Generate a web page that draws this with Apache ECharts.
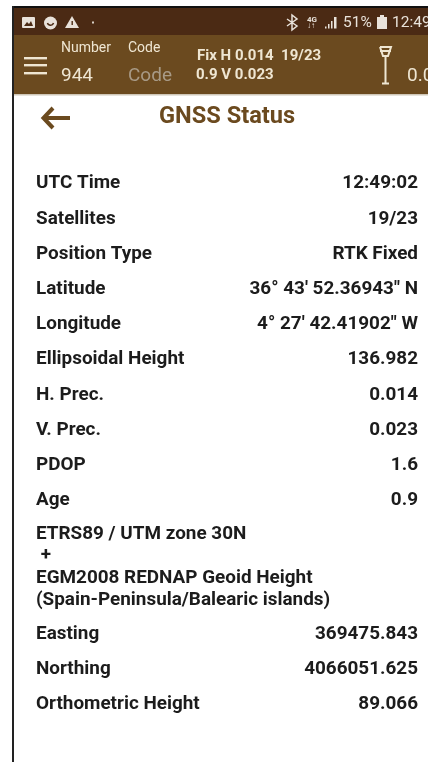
<!DOCTYPE html>
<html><head><meta charset="utf-8">
<style>html,body{margin:0;padding:0;background:#fff}#c{width:428px;height:762px}</style>
<script src="https://cdn.jsdelivr.net/npm/echarts@6/dist/echarts.min.js"></script>
</head><body><div id="c"></div>
<script>
const labels = ['UTC Time','Satellites','Position Type','Latitude','Longitude','Ellipsoidal Height','H. Prec.','V. Prec.','PDOP','Age'];
const values = ['12:49:02','19/23','RTK Fixed','36° 43\' 52.36943" N','4° 27\' 42.41902" W','136.982','0.014','0.023','1.6','0.9'];
const rowY = [183,219,254,289,324,359,395,430,465,500];
const crsLines = ['ETRS89 / UTM zone 30N',' +','EGM2008 REDNAP Geoid Height','(Spain-Peninsula/Balearic islands)'];
const crsY = [534,555,578,600];
const labels2 = ['Easting','Northing','Orthometric Height'];
const values2 = ['369475.843','4066051.625','89.066'];
const rowY2 = [634,669,704];

const F='Roboto', DARK='#1c1c1c', BR='#6b4a1f', CREAM='#efe6d2';
const T=(x,y,text,size,fill,weight,align)=>({type:'text',silent:true,style:{x,y,text,fill,font:`${weight||400} ${size}px ${F}`,align:align||'left',verticalAlign:'middle'}});
const R=(x,y,w,h,fill)=>({type:'rect',silent:true,shape:{x,y,width:w,height:h},style:{fill}});
const L=(pts,stroke,w)=>({type:'polyline',silent:true,shape:{points:pts},style:{stroke,fill:null,lineWidth:w,lineCap:'butt'}});
const els=[
 R(12,6,416,2,'#111'),R(12,6,2,756,'#222'),
 R(14,8,414,27,'#4b2a14'),R(14,35,414,59,BR),R(14,94,414,1.5,'#cfc7b8'),
 // status bar icons
 {type:'rect',silent:true,shape:{x:22,y:17,width:13,height:11,r:1},style:{fill:'#e9e2da'}},
 {type:'polygon',silent:true,shape:{points:[[24,26],[27,22],[29,24],[31,21],[33,26]]},style:{fill:'#4b2a14'}},
 {type:'circle',silent:true,shape:{cx:50.5,cy:23,r:6.5},style:{fill:'#e9e2da'}},
 {type:'arc',silent:true,shape:{cx:50.5,cy:22,r:3.2,startAngle:0.3,endAngle:2.84},style:{stroke:'#4b2a14',lineWidth:1.5,fill:null}},
 {type:'polygon',silent:true,shape:{points:[[65,28],[79,28],[72,16]]},style:{fill:'#e9e2da'}},
 R(71.5,21,1.4,4,'#4b2a14'),
 R(92,21.5,2,2,'#d8cfc6'),
 L([[287,19],[297,26],[292,30],[292,15],[297,19],[287,26]],'#e9e2da',1.5),
 T(307,19.5,'4G',8,'#e9e2da',700),
 T(307,26,'↓↑',8,'#e9e2da',700),
 R(325,26.5,1.5,2,'#e9e2da'),R(328,24,1.5,4.5,'#e9e2da'),R(331,21,1.5,7.5,'#e9e2da'),R(334,17,2.5,11.5,'#e9e2da'),
 T(343,23,'51%',15.5,'#e9e2da',400),
 R(377,17,10,12,'#e9e2da'),R(380,15,4,2,'#e9e2da'),
 T(392,23,'12:49',15.5,'#e9e2da',400),
 // toolbar
 R(24,57,23,2.4,CREAM),R(24,64,23,2.4,CREAM),R(24,72,23,2.4,CREAM),
 T(61,48,'Number',14,CREAM),T(128,48,'Code',14,CREAM),
 T(61,76.5,'944',19,CREAM),T(128,76.5,'Code',19,'#a89a86'),
 T(197,56.5,'Fix H 0.014  19/23',15,CREAM,700),T(196,75.5,'0.9 V 0.023',15,CREAM,700),
 L([[380,47],[391,47],[388,56],[383,56],[380,47]],CREAM,2),
 L([[380,51],[391,51]],CREAM,2),L([[385.5,56],[385.5,83]],CREAM,2),L([[382,83.5],[389,83.5]],CREAM,2),
 T(407,76,'0.0',19,CREAM),
 // heading
 L([[43,118],[70,118]],BR,4),L([[53,108],[43.5,118],[53,128]],BR,4),
 T(159,117.5,'GNSS Status',23.6,BR,700)
];
const S=18.9;
labels.forEach((t,i)=>{els.push(T(36,rowY[i],t,S,DARK,700));els.push(T(418,rowY[i],values[i],S,DARK,700,'right'));});
crsLines.forEach((t,i)=>els.push(T(36,crsY[i],t,S,DARK,700)));
labels2.forEach((t,i)=>{els.push(T(36,rowY2[i],t,S,DARK,700));els.push(T(418,rowY2[i],values2[i],S,DARK,700,'right'));});
const chart=echarts.init(document.getElementById('c'),null,{renderer:'canvas'});
chart.setOption({animation:false,backgroundColor:'#fff',graphic:{elements:els}});
</script></body></html>
